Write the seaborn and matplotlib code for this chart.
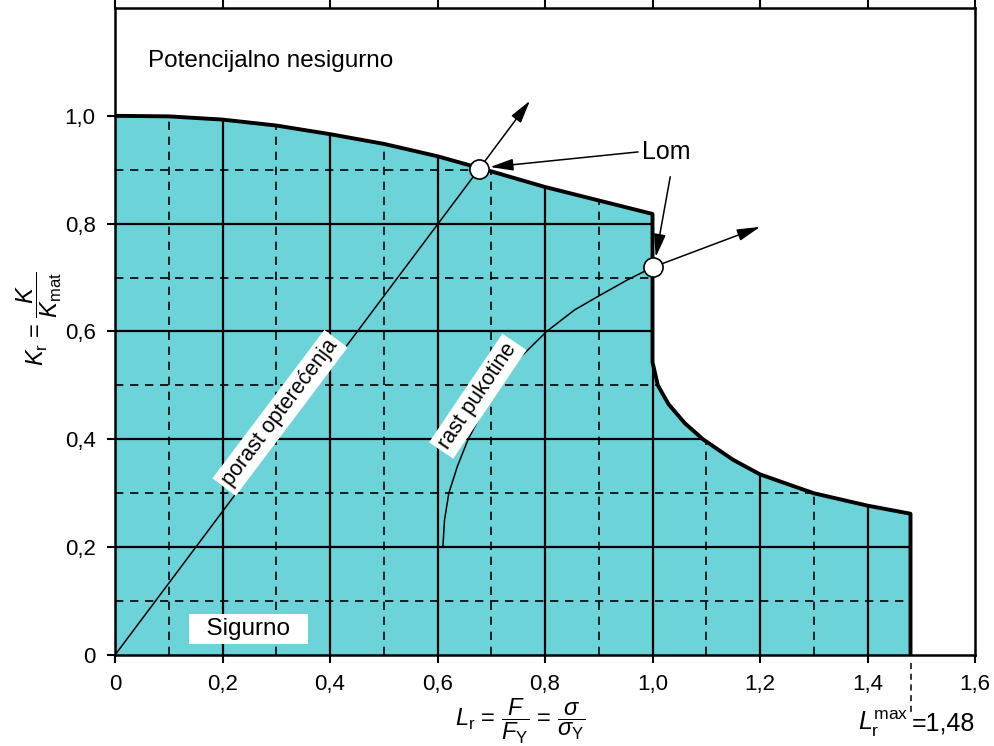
import numpy as np
import seaborn as sns
import matplotlib
matplotlib.use("Agg")
import matplotlib.pyplot as plt

# Failure assessment diagram boundary (L_r, K_r)
fad_lr = [0.0, 0.1, 0.2, 0.3, 0.4, 0.5, 0.6, 0.7, 0.8, 0.9, 0.96, 1.0,
          1.0, 1.01, 1.03, 1.06, 1.094, 1.15, 1.2, 1.3, 1.4, 1.48, 1.48]
fad_kr = [1.0, 0.999, 0.993, 0.982, 0.966, 0.948, 0.925, 0.897, 0.868, 0.843, 0.828, 0.818,
          0.543, 0.50, 0.465, 0.43, 0.40, 0.362, 0.335, 0.30, 0.277, 0.262, 0.0]

# load increase path and crack growth path
load_lr = [0.0, 0.677]
load_kr = [0.0, 0.901]
crack_lr = [0.610, 0.613, 0.621, 0.637, 0.657, 0.683, 0.713, 0.752, 0.803, 0.855, 0.902, 0.952, 1.0]
crack_kr = [0.20, 0.25, 0.30, 0.35, 0.40, 0.45, 0.50, 0.55, 0.60, 0.64, 0.667, 0.695, 0.719]

# failure points
fail_lr = [0.677, 1.0]
fail_kr = [0.901, 0.719]

x_ticks = [0, 0.2, 0.4, 0.6, 0.8, 1.0, 1.2, 1.4, 1.6]
x_labels = ["0", "0,2", "0,4", "0,6", "0,8", "1,0", "1,2", "1,4", "1,6"]
y_ticks = [0, 0.2, 0.4, 0.6, 0.8, 1.0]
y_labels = ["0", "0,2", "0,4", "0,6", "0,8", "1,0"]
lr_max = 1.48

sns.set_theme(style="white")
plt.rcParams["font.family"] = ["Liberation Sans", "DejaVu Sans"]
plt.rcParams["mathtext.fontset"] = "custom"
plt.rcParams["mathtext.rm"] = "Liberation Sans"
plt.rcParams["mathtext.it"] = "Liberation Sans:italic"
plt.rcParams["mathtext.bf"] = "Liberation Sans:bold"
plt.rcParams["text.color"] = "black"
plt.rcParams["axes.labelcolor"] = "black"
plt.rcParams["xtick.color"] = "black"
plt.rcParams["ytick.color"] = "black"

fig = plt.figure(figsize=(9.95, 7.46), dpi=100)
ax = fig.add_axes([0.1156, 0.122, 0.8643, 0.8673])

# safe region (closed at the origin)
poly = ax.fill([0.0] + fad_lr, [0.0] + fad_kr, color="#6cd4d9", lw=0, zorder=1)[0]

# grid inside the safe region only
for v in np.arange(0.2, 1.5, 0.2):
    ln = ax.axvline(v, color="black", lw=1.6, zorder=2)
    ln.set_clip_path(poly)
for v in np.arange(0.1, 1.5, 0.2):
    ln = ax.axvline(v, color="black", lw=1.2, ls=(0, (5, 4)), zorder=2)
    ln.set_clip_path(poly)
for v in np.arange(0.2, 1.1, 0.2):
    ln = ax.axhline(v, color="black", lw=1.6, zorder=2)
    ln.set_clip_path(poly)
for v in np.arange(0.1, 1.0, 0.2):
    ln = ax.axhline(v, color="black", lw=1.2, ls=(0, (5, 4)), zorder=2)
    ln.set_clip_path(poly)

# boundary
sns.lineplot(x=fad_lr, y=fad_kr, sort=False, estimator=None, color="black", lw=2.8, ax=ax, zorder=4)

# paths
sns.lineplot(x=load_lr, y=load_kr, sort=False, estimator=None, color="black", lw=1.1, ax=ax, zorder=5)
sns.lineplot(x=crack_lr, y=crack_kr, sort=False, estimator=None, color="black", lw=1.1, ax=ax, zorder=5)

arrow = dict(arrowstyle="-|>,head_length=0.7,head_width=0.18", color="black", lw=1.1,
             mutation_scale=20, shrinkA=0, shrinkB=0)
ax.annotate("", xy=(0.772, 1.028), xytext=(fail_lr[0], fail_kr[0]), arrowprops=arrow, zorder=5)
ax.annotate("", xy=(1.2, 0.794), xytext=(fail_lr[1], fail_kr[1]), arrowprops=arrow, zorder=5)

sns.scatterplot(x=fail_lr, y=fail_kr, s=190, color="white", edgecolor="black", linewidth=1.2, ax=ax, zorder=6)

# Lom label with arrows
ax.text(1.025, 0.933, "Lom", fontsize=18, ha="center", va="center")
ax.annotate("", xy=(0.698, 0.905), xytext=(0.973, 0.933), arrowprops=arrow, zorder=7)
ax.annotate("", xy=(1.006, 0.738), xytext=(1.033, 0.887), arrowprops=arrow, zorder=7)

# region labels
ax.text(0.0614, 1.102, "Potencijalno nesigurno", fontsize=17.5, ha="left", va="center")
ax.text(0.248, 0.048, "  Sigurno  ", fontsize=17.5, ha="center", va="center", zorder=6,
        bbox=dict(facecolor="white", edgecolor="none", pad=3))
ax.text(0.307, 0.449, "porast opterećenja", fontsize=15.5, rotation=53, ha="center", va="center",
        rotation_mode="anchor", zorder=6, bbox=dict(facecolor="white", edgecolor="none", pad=3))
ax.text(0.675, 0.48, "rast pukotine", fontsize=15.5, rotation=56, ha="center", va="center",
        rotation_mode="anchor", zorder=6, bbox=dict(facecolor="white", edgecolor="none", pad=3))

# axes
ax.set_xlim(0, 1.6)
ax.set_ylim(0, 1.2)
ax.set_xticks(x_ticks)
ax.set_xticklabels(x_labels, fontsize=16)
ax.set_yticks(y_ticks)
ax.set_yticklabels(y_labels, fontsize=16)
ax.tick_params(axis="both", direction="out", length=6, width=1.5, color="black", pad=8,
               bottom=True, left=True, top=True, right=False, labeltop=False)
for s in ax.spines.values():
    s.set_color("black")
    s.set_linewidth(1.8)
    s.set_zorder(8)

ax.set_xlabel(r"$L_\mathrm{r}$ = $\dfrac{F}{F_\mathrm{Y}}$ = $\dfrac{\sigma}{\sigma_\mathrm{Y}}$", fontsize=17)
ax.xaxis.set_label_coords(0.471, -0.102)
ax.xaxis.label.set_va("center")
ax.set_ylabel(r"$K_\mathrm{r}$ = $\dfrac{K}{K_\mathrm{mat}}$", fontsize=17)
ax.yaxis.set_label_coords(-0.088, 0.52)
ax.yaxis.label.set_va("center")

# L_r max marker
trans = ax.get_xaxis_transform()
ax.plot([lr_max, lr_max], [-0.012, -0.09], color="black", lw=1.1, ls=(0, (4, 3)),
        transform=trans, clip_on=False)
ax.text(lr_max - 0.003, -0.106, r"$L_\mathrm{r}^\mathrm{max}$", fontsize=18, ha="right", va="center",
        transform=trans)
ax.text(lr_max + 0.003, -0.106, "=1,48", fontsize=18, ha="left", va="center", transform=trans)

fig.savefig("out.png", dpi=100)
